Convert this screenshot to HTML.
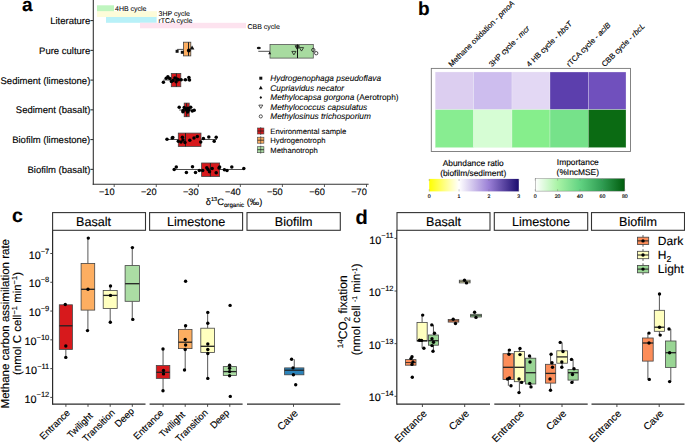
<!DOCTYPE html>
<html><head><meta charset="utf-8"><style>
html,body{margin:0;padding:0;background:#fff;}
svg{display:block;}
text{text-rendering:geometricPrecision;stroke:#000;stroke-width:0.14;font-family:"Liberation Sans", sans-serif;}
</style></head><body>
<svg width="685" height="443" viewBox="0 0 685 443">
<rect x="0" y="0" width="685" height="443" fill="#fff"/>
<text x="22" y="11" font-size="19" text-anchor="start" fill="#000" font-weight="bold" font-style="normal" >a</text>
<rect x="97" y="5.3" width="17" height="6.4" fill="#bff5bf" stroke="none" stroke-width="1" />
<rect x="97" y="11.2" width="60" height="5.8" fill="#fdfcd9" stroke="none" stroke-width="1" />
<rect x="106" y="17" width="50.6" height="5.8" fill="#b8f1f8" stroke="none" stroke-width="1" />
<rect x="140" y="22.8" width="106" height="5.5" fill="#fde3ef" stroke="none" stroke-width="1" />
<text x="115" y="10.6" font-size="7.0" text-anchor="start" fill="#000" font-weight="normal" font-style="normal" style="stroke-width:0.06" >4HB cycle</text>
<text x="158.5" y="16.2" font-size="7.0" text-anchor="start" fill="#000" font-weight="normal" font-style="normal" style="stroke-width:0.06" >3HP cycle</text>
<text x="158.5" y="22.6" font-size="7.0" text-anchor="start" fill="#000" font-weight="normal" font-style="normal" style="stroke-width:0.06" >rTCA cycle</text>
<text x="247.5" y="28.8" font-size="7.0" text-anchor="start" fill="#000" font-weight="normal" font-style="normal" style="stroke-width:0.06" >CBB cycle</text>
<text x="90.3" y="24.0" font-size="9.5" text-anchor="end" fill="#000" font-weight="normal" font-style="normal" >Literature</text>
<line x1="90.4" y1="20.6" x2="93.3" y2="20.6" stroke="#222" stroke-width="1.0"/>
<text x="90.3" y="53.75" font-size="9.5" text-anchor="end" fill="#000" font-weight="normal" font-style="normal" >Pure culture</text>
<line x1="90.4" y1="50.35" x2="93.3" y2="50.35" stroke="#222" stroke-width="1.0"/>
<text x="90.3" y="83.5" font-size="9.5" text-anchor="end" fill="#000" font-weight="normal" font-style="normal" >Sediment (limestone)</text>
<line x1="90.4" y1="80.1" x2="93.3" y2="80.1" stroke="#222" stroke-width="1.0"/>
<text x="90.3" y="113.25" font-size="9.5" text-anchor="end" fill="#000" font-weight="normal" font-style="normal" >Sediment (basalt)</text>
<line x1="90.4" y1="109.85" x2="93.3" y2="109.85" stroke="#222" stroke-width="1.0"/>
<text x="90.3" y="143.0" font-size="9.5" text-anchor="end" fill="#000" font-weight="normal" font-style="normal" >Biofilm (limestone)</text>
<line x1="90.4" y1="139.6" x2="93.3" y2="139.6" stroke="#222" stroke-width="1.0"/>
<text x="90.3" y="172.75" font-size="9.5" text-anchor="end" fill="#000" font-weight="normal" font-style="normal" >Biofilm (basalt)</text>
<line x1="90.4" y1="169.35" x2="93.3" y2="169.35" stroke="#222" stroke-width="1.0"/>
<line x1="93.3" y1="0" x2="93.3" y2="184.8" stroke="#333" stroke-width="1.1"/>
<line x1="92.7" y1="184.3" x2="368.6" y2="184.3" stroke="#333" stroke-width="1.1"/>
<line x1="114.2" y1="184.2" x2="114.2" y2="187" stroke="#333" stroke-width="0.8"/>
<text x="114.5" y="194.6" font-size="9.2" text-anchor="end" fill="#000" font-weight="normal" font-style="normal" >−10</text>
<line x1="156.25" y1="184.2" x2="156.25" y2="187" stroke="#333" stroke-width="0.8"/>
<text x="156.55" y="194.6" font-size="9.2" text-anchor="end" fill="#000" font-weight="normal" font-style="normal" >−20</text>
<line x1="198.3" y1="184.2" x2="198.3" y2="187" stroke="#333" stroke-width="0.8"/>
<text x="198.60000000000002" y="194.6" font-size="9.2" text-anchor="end" fill="#000" font-weight="normal" font-style="normal" >−30</text>
<line x1="240.35" y1="184.2" x2="240.35" y2="187" stroke="#333" stroke-width="0.8"/>
<text x="240.65" y="194.6" font-size="9.2" text-anchor="end" fill="#000" font-weight="normal" font-style="normal" >−40</text>
<line x1="282.4" y1="184.2" x2="282.4" y2="187" stroke="#333" stroke-width="0.8"/>
<text x="282.7" y="194.6" font-size="9.2" text-anchor="end" fill="#000" font-weight="normal" font-style="normal" >−50</text>
<line x1="324.45" y1="184.2" x2="324.45" y2="187" stroke="#333" stroke-width="0.8"/>
<text x="324.75" y="194.6" font-size="9.2" text-anchor="end" fill="#000" font-weight="normal" font-style="normal" >−60</text>
<line x1="366.5" y1="184.2" x2="366.5" y2="187" stroke="#333" stroke-width="0.8"/>
<text x="366.8" y="194.6" font-size="9.2" text-anchor="end" fill="#000" font-weight="normal" font-style="normal" >−70</text>
<text x="234" y="204.5" font-size="9.3" text-anchor="middle">δ<tspan font-size="5.6" dy="-3.6">13</tspan><tspan dy="3.6">C</tspan><tspan font-size="6.2" dy="2.3">organic</tspan><tspan dy="-2.3"> (‰)</tspan></text>
<line x1="177.1" y1="49.4" x2="183.4" y2="49.4" stroke="#222" stroke-width="0.8"/>
<rect x="183.4" y="42.2" width="7.4" height="13.7" fill="#fdae61" stroke="#444" stroke-width="0.8" />
<line x1="188.5" y1="42.2" x2="188.5" y2="55.9" stroke="#222" stroke-width="1.0"/>
<rect x="175.6" y="49.8" width="3" height="3" fill="#111" stroke="none" stroke-width="1" />
<rect x="180.8" y="50.8" width="3" height="3" fill="#111" stroke="none" stroke-width="1" />
<circle cx="188.8" cy="50.5" r="1.9" fill="#000"/>
<polygon points="189.8,49.6 194.4,49.6 192.1,45.6" fill="#111"/>
<line x1="258.3" y1="51.3" x2="270" y2="51.3" stroke="#222" stroke-width="0.8"/>
<rect x="270" y="44.5" width="43.3" height="13.6" fill="#a8dba0" stroke="#555" stroke-width="0.8" />
<line x1="297.5" y1="44.5" x2="297.5" y2="58.1" stroke="#111" stroke-width="1.0"/>
<ellipse cx="258.8" cy="48" rx="2" ry="1.3" fill="#111"/>
<polygon points="268.2,54.2 271.2,54.2 269.7,51.6" fill="#111"/>
<polygon points="291.79999999999995,51.4 296.0,51.4 293.9,54.9" fill="none" stroke="#111" stroke-width="0.75"/>
<polygon points="299.4,47.6 303.6,47.6 301.5,51.1" fill="none" stroke="#111" stroke-width="0.75"/>
<polygon points="295.09999999999997,45.699999999999996 299.3,45.699999999999996 297.2,49.199999999999996" fill="none" stroke="#111" stroke-width="0.75"/>
<circle cx="297.6" cy="47" r="1.5" fill="none" stroke="#111" stroke-width="0.75"/>
<circle cx="313.3" cy="50" r="1.7" fill="none" stroke="#111" stroke-width="0.75"/>
<circle cx="316.2" cy="53.2" r="1.7" fill="none" stroke="#111" stroke-width="0.75"/>
<line x1="163.4" y1="80" x2="190" y2="80" stroke="#222" stroke-width="0.8"/>
<rect x="171.3" y="73.4" width="9.5" height="13.3" fill="#d7191c" stroke="#444" stroke-width="0.8" />
<line x1="176.4" y1="73.4" x2="176.4" y2="86.7" stroke="#222" stroke-width="1.0"/>
<circle cx="163.4" cy="82.3" r="1.75" fill="#000"/>
<circle cx="166.2" cy="78.2" r="1.75" fill="#000"/>
<circle cx="167.9" cy="76.8" r="1.75" fill="#000"/>
<circle cx="169.7" cy="78.5" r="1.75" fill="#000"/>
<circle cx="171.4" cy="81.4" r="1.75" fill="#000"/>
<circle cx="174.9" cy="77.9" r="1.75" fill="#000"/>
<circle cx="176.1" cy="81.7" r="1.75" fill="#000"/>
<circle cx="178.4" cy="79.7" r="1.75" fill="#000"/>
<circle cx="181.1" cy="79.7" r="1.75" fill="#000"/>
<circle cx="185.4" cy="79.7" r="1.75" fill="#000"/>
<circle cx="188.9" cy="77.6" r="1.75" fill="#000"/>
<circle cx="189.5" cy="80" r="1.75" fill="#000"/>
<circle cx="173" cy="80.5" r="1.75" fill="#000"/>
<circle cx="177" cy="79" r="1.75" fill="#000"/>
<line x1="179.2" y1="110" x2="194.2" y2="110" stroke="#222" stroke-width="0.8"/>
<rect x="184.2" y="103.1" width="5" height="13.6" fill="#d7191c" stroke="#444" stroke-width="0.8" />
<line x1="186.6" y1="103.1" x2="186.6" y2="116.7" stroke="#222" stroke-width="1.0"/>
<circle cx="179.2" cy="107.2" r="1.75" fill="#000"/>
<circle cx="183.1" cy="110.5" r="1.75" fill="#000"/>
<circle cx="184.2" cy="107.5" r="1.75" fill="#000"/>
<circle cx="186.9" cy="110.5" r="1.75" fill="#000"/>
<circle cx="188" cy="108.3" r="1.75" fill="#000"/>
<circle cx="190.7" cy="107.2" r="1.75" fill="#000"/>
<circle cx="192.3" cy="111" r="1.75" fill="#000"/>
<circle cx="194.2" cy="110.2" r="1.75" fill="#000"/>
<circle cx="187.7" cy="112.1" r="1.75" fill="#000"/>
<circle cx="182.9" cy="111.8" r="1.75" fill="#000"/>
<circle cx="186" cy="109" r="1.75" fill="#000"/>
<circle cx="189" cy="110" r="1.75" fill="#000"/>
<line x1="166.8" y1="139.5" x2="217" y2="139.5" stroke="#222" stroke-width="0.8"/>
<rect x="178.3" y="133.1" width="22.7" height="13.3" fill="#d7191c" stroke="#444" stroke-width="0.8" />
<line x1="185.5" y1="133.1" x2="185.5" y2="146.4" stroke="#222" stroke-width="1.0"/>
<circle cx="167" cy="139.2" r="1.75" fill="#000"/>
<circle cx="172.2" cy="138.1" r="1.75" fill="#000"/>
<circle cx="172.8" cy="137.5" r="1.75" fill="#000"/>
<circle cx="178.3" cy="141.3" r="1.75" fill="#000"/>
<circle cx="181" cy="142" r="1.75" fill="#000"/>
<circle cx="182.4" cy="137.2" r="1.75" fill="#000"/>
<circle cx="183" cy="140" r="1.75" fill="#000"/>
<circle cx="185" cy="142.6" r="1.75" fill="#000"/>
<circle cx="189.8" cy="140.2" r="1.75" fill="#000"/>
<circle cx="194" cy="137.9" r="1.75" fill="#000"/>
<circle cx="197.3" cy="136.5" r="1.75" fill="#000"/>
<circle cx="200.7" cy="142" r="1.75" fill="#000"/>
<circle cx="203.4" cy="138.6" r="1.75" fill="#000"/>
<circle cx="208.8" cy="136.9" r="1.75" fill="#000"/>
<circle cx="214.2" cy="141.3" r="1.75" fill="#000"/>
<circle cx="216.2" cy="137.2" r="1.75" fill="#000"/>
<line x1="174.2" y1="169.5" x2="243.8" y2="169.5" stroke="#222" stroke-width="0.8"/>
<rect x="201.6" y="163" width="18" height="13.5" fill="#d7191c" stroke="#444" stroke-width="0.8" />
<line x1="210.4" y1="163" x2="210.4" y2="176.5" stroke="#222" stroke-width="1.0"/>
<circle cx="174.2" cy="169.5" r="1.75" fill="#000"/>
<circle cx="176.3" cy="167" r="1.75" fill="#000"/>
<circle cx="186.4" cy="172.4" r="1.75" fill="#000"/>
<circle cx="192.5" cy="166.7" r="1.75" fill="#000"/>
<circle cx="195.5" cy="172.4" r="1.75" fill="#000"/>
<circle cx="199.3" cy="170.4" r="1.75" fill="#000"/>
<circle cx="202.7" cy="170.4" r="1.75" fill="#000"/>
<circle cx="206.8" cy="167.7" r="1.75" fill="#000"/>
<circle cx="208" cy="169.5" r="1.75" fill="#000"/>
<circle cx="209.5" cy="171.8" r="1.75" fill="#000"/>
<circle cx="212.2" cy="168.4" r="1.75" fill="#000"/>
<circle cx="216.2" cy="172.7" r="1.75" fill="#000"/>
<circle cx="219" cy="168" r="1.75" fill="#000"/>
<circle cx="219.6" cy="167" r="1.75" fill="#000"/>
<circle cx="224.4" cy="169.7" r="1.75" fill="#000"/>
<circle cx="227" cy="170.4" r="1.75" fill="#000"/>
<circle cx="231.8" cy="167" r="1.75" fill="#000"/>
<circle cx="243.8" cy="168.4" r="1.75" fill="#000"/>
<rect x="259.3" y="76.7" width="3" height="3" fill="#111" stroke="none" stroke-width="1" />
<polygon points="258.8,89.3 262.8,89.3 260.8,85.8" fill="#111"/>
<polygon points="260.8,95.9 262.1,97.5 260.8,99.1 259.5,97.5" fill="#111"/>
<polygon points="258.8,105.1 262.8,105.1 260.8,108.39999999999999" fill="none" stroke="#111" stroke-width="0.7"/>
<circle cx="260.8" cy="116.4" r="1.6" fill="none" stroke="#111" stroke-width="0.7"/>
<text x="270.3" y="81.10000000000001" font-size="8.3" text-anchor="start" fill="#000" font-weight="normal" font-style="italic" style="stroke-width:0.08" >Hydrogenophaga pseudoflava</text>
<text x="270.3" y="90.60000000000001" font-size="8.3" text-anchor="start" fill="#000" font-weight="normal" font-style="italic" style="stroke-width:0.08" >Cupriavidus necator</text>
<text x="270.3" y="100.4" font-size="8.3" style="stroke-width:0.08"><tspan font-style="italic">Methylocapsa gorgona</tspan><tspan> (Aerotroph)</tspan></text>
<text x="270.3" y="109.5" font-size="8.3" text-anchor="start" fill="#000" font-weight="normal" font-style="italic" style="stroke-width:0.08" >Methylococcus capsulatus</text>
<text x="270.3" y="119.30000000000001" font-size="8.3" text-anchor="start" fill="#000" font-weight="normal" font-style="italic" style="stroke-width:0.08" >Methylosinus trichosporium</text>
<rect x="257.5" y="128" width="6.4" height="6" fill="#d7191c" stroke="#444" stroke-width="0.6" />
<line x1="260.7" y1="127" x2="260.7" y2="135" stroke="#333" stroke-width="0.6"/>
<line x1="257.5" y1="131" x2="263.9" y2="131" stroke="#222" stroke-width="0.8"/>
<text x="270.3" y="133.8" font-size="7.7" text-anchor="start" fill="#000" font-weight="normal" font-style="normal" style="stroke-width:0.08" >Environmental sample</text>
<rect x="257.5" y="137.2" width="6.4" height="6" fill="#fdae61" stroke="#444" stroke-width="0.6" />
<line x1="260.7" y1="136.2" x2="260.7" y2="144.2" stroke="#333" stroke-width="0.6"/>
<line x1="257.5" y1="140.2" x2="263.9" y2="140.2" stroke="#222" stroke-width="0.8"/>
<text x="270.3" y="143.0" font-size="7.7" text-anchor="start" fill="#000" font-weight="normal" font-style="normal" style="stroke-width:0.08" >Hydrogenotroph</text>
<rect x="257.5" y="146.7" width="6.4" height="6" fill="#abdda4" stroke="#444" stroke-width="0.6" />
<line x1="260.7" y1="145.7" x2="260.7" y2="153.7" stroke="#333" stroke-width="0.6"/>
<line x1="257.5" y1="149.7" x2="263.9" y2="149.7" stroke="#222" stroke-width="0.8"/>
<text x="270.3" y="152.5" font-size="7.7" text-anchor="start" fill="#000" font-weight="normal" font-style="normal" style="stroke-width:0.08" >Methanotroph</text>
<text x="418" y="14.9" font-size="19" text-anchor="start" fill="#000" font-weight="bold" font-style="normal" >b</text>
<rect x="431.3" y="68.4" width="199.2" height="83.1" fill="none" stroke="#777" stroke-width="0.9" />
<rect x="435.2" y="72" width="38.400000000000034" height="37.7" fill="#dccef0" stroke="#f2f0f8" stroke-width="0.3" />
<rect x="435.2" y="109.7" width="38.400000000000034" height="37.9" fill="#88ed91" stroke="#eaf8ea" stroke-width="0.3" />
<rect x="473.6" y="72" width="38.39999999999998" height="37.7" fill="#cdbdee" stroke="#f2f0f8" stroke-width="0.3" />
<rect x="473.6" y="109.7" width="38.39999999999998" height="37.9" fill="#d6fdd4" stroke="#eaf8ea" stroke-width="0.3" />
<rect x="512" y="72" width="38" height="37.7" fill="#e3d8f4" stroke="#f2f0f8" stroke-width="0.3" />
<rect x="512" y="109.7" width="38" height="37.9" fill="#86ee8c" stroke="#eaf8ea" stroke-width="0.3" />
<rect x="550" y="72" width="38.299999999999955" height="37.7" fill="#5c3fad" stroke="#f2f0f8" stroke-width="0.3" />
<rect x="550" y="109.7" width="38.299999999999955" height="37.9" fill="#76e28a" stroke="#eaf8ea" stroke-width="0.3" />
<rect x="588.3" y="72" width="37.700000000000045" height="37.7" fill="#7050bd" stroke="#f2f0f8" stroke-width="0.3" />
<rect x="588.3" y="109.7" width="37.700000000000045" height="37.9" fill="#0b6b13" stroke="#eaf8ea" stroke-width="0.3" />
<text x="451.4" y="67.3" font-size="7.7" transform="rotate(-45 451.4 67.3)">Methane oxidation - <tspan font-style="italic">pmoA</tspan></text>
<text x="491.9" y="67.3" font-size="7.7" transform="rotate(-45 491.9 67.3)">3HP cycle - <tspan font-style="italic">mcr</tspan></text>
<text x="529.6" y="67.3" font-size="7.7" transform="rotate(-45 529.6 67.3)">4 HB cycle - <tspan font-style="italic">hbsT</tspan></text>
<text x="569.4" y="67.3" font-size="7.7" transform="rotate(-45 569.4 67.3)">rTCA cycle - <tspan font-style="italic">aclB</tspan></text>
<text x="604.7" y="67.3" font-size="7.7" transform="rotate(-45 604.7 67.3)">CBB cycle - <tspan font-style="italic">rbcL</tspan></text>
<defs><linearGradient id="g1" x1="0" x2="1" y1="0" y2="0"><stop offset="0" stop-color="#ffff00"/><stop offset="0.333" stop-color="#ffffff"/><stop offset="0.667" stop-color="#9a7fd6"/><stop offset="1" stop-color="#1b0c6e"/></linearGradient><linearGradient id="g2" x1="0" x2="1" y1="0" y2="0"><stop offset="0" stop-color="#ffffff"/><stop offset="0.25" stop-color="#aaf3a6"/><stop offset="0.5" stop-color="#62d382"/><stop offset="0.75" stop-color="#2f9c52"/><stop offset="1" stop-color="#005c0c"/></linearGradient></defs>
<text x="473.2" y="165.9" font-size="8.4" text-anchor="middle" fill="#000" font-weight="normal" font-style="normal" >Abundance ratio</text>
<text x="473.2" y="175.9" font-size="8.4" text-anchor="middle" fill="#000" font-weight="normal" font-style="normal" >(biofilm/sediment)</text>
<rect x="429.2" y="178.9" width="89.6" height="12.5" fill="url(#g1)" stroke="none" stroke-width="1" />
<text x="577.8" y="164.6" font-size="8.4" text-anchor="middle" fill="#000" font-weight="normal" font-style="normal" >Importance</text>
<text x="577.8" y="174.7" font-size="8.4" text-anchor="middle" fill="#000" font-weight="normal" font-style="normal" >(%IncMSE)</text>
<rect x="535.2" y="178.6" width="89.6" height="12.5" fill="url(#g2)" stroke="#666" stroke-width="0.4" />
<line x1="429.2" y1="179" x2="429.2" y2="181" stroke="#777" stroke-width="0.4"/>
<line x1="429.2" y1="189.3" x2="429.2" y2="191.4" stroke="#777" stroke-width="0.4"/>
<text x="429.2" y="197.9" font-size="5.2" text-anchor="middle" fill="#000" font-weight="normal" font-style="normal" >0</text>
<line x1="459.06666666666666" y1="179" x2="459.06666666666666" y2="181" stroke="#777" stroke-width="0.4"/>
<line x1="459.06666666666666" y1="189.3" x2="459.06666666666666" y2="191.4" stroke="#777" stroke-width="0.4"/>
<text x="459.06666666666666" y="197.9" font-size="5.2" text-anchor="middle" fill="#000" font-weight="normal" font-style="normal" >1</text>
<line x1="488.93333333333334" y1="179" x2="488.93333333333334" y2="181" stroke="#777" stroke-width="0.4"/>
<line x1="488.93333333333334" y1="189.3" x2="488.93333333333334" y2="191.4" stroke="#777" stroke-width="0.4"/>
<text x="488.93333333333334" y="197.9" font-size="5.2" text-anchor="middle" fill="#000" font-weight="normal" font-style="normal" >2</text>
<line x1="518.8" y1="179" x2="518.8" y2="181" stroke="#777" stroke-width="0.4"/>
<line x1="518.8" y1="189.3" x2="518.8" y2="191.4" stroke="#777" stroke-width="0.4"/>
<text x="518.8" y="197.9" font-size="5.2" text-anchor="middle" fill="#000" font-weight="normal" font-style="normal" >3</text>
<line x1="535.2" y1="178.6" x2="535.2" y2="180.6" stroke="#777" stroke-width="0.4"/>
<line x1="535.2" y1="189.1" x2="535.2" y2="191.1" stroke="#777" stroke-width="0.4"/>
<text x="535.2" y="197.9" font-size="5.2" text-anchor="middle" fill="#000" font-weight="normal" font-style="normal" >0</text>
<line x1="557.6" y1="178.6" x2="557.6" y2="180.6" stroke="#777" stroke-width="0.4"/>
<line x1="557.6" y1="189.1" x2="557.6" y2="191.1" stroke="#777" stroke-width="0.4"/>
<text x="557.6" y="197.9" font-size="5.2" text-anchor="middle" fill="#000" font-weight="normal" font-style="normal" >20</text>
<line x1="580.0" y1="178.6" x2="580.0" y2="180.6" stroke="#777" stroke-width="0.4"/>
<line x1="580.0" y1="189.1" x2="580.0" y2="191.1" stroke="#777" stroke-width="0.4"/>
<text x="580.0" y="197.9" font-size="5.2" text-anchor="middle" fill="#000" font-weight="normal" font-style="normal" >40</text>
<line x1="602.4000000000001" y1="178.6" x2="602.4000000000001" y2="180.6" stroke="#777" stroke-width="0.4"/>
<line x1="602.4000000000001" y1="189.1" x2="602.4000000000001" y2="191.1" stroke="#777" stroke-width="0.4"/>
<text x="602.4000000000001" y="197.9" font-size="5.2" text-anchor="middle" fill="#000" font-weight="normal" font-style="normal" >60</text>
<line x1="624.8000000000001" y1="178.6" x2="624.8000000000001" y2="180.6" stroke="#777" stroke-width="0.4"/>
<line x1="624.8000000000001" y1="189.1" x2="624.8000000000001" y2="191.1" stroke="#777" stroke-width="0.4"/>
<text x="624.8000000000001" y="197.9" font-size="5.2" text-anchor="middle" fill="#000" font-weight="normal" font-style="normal" >80</text>
<text x="12" y="221.5" font-size="19.5" text-anchor="start" fill="#000" font-weight="bold" font-style="normal" >c</text>
<rect x="52.6" y="212.6" width="92.9" height="17.7" fill="#fff" stroke="#333" stroke-width="1.1" />
<text x="76" y="226.2" font-size="12.6" text-anchor="start" fill="#000" font-weight="normal" font-style="normal" >Basalt</text>
<rect x="149.6" y="212.6" width="93.0" height="17.7" fill="#fff" stroke="#333" stroke-width="1.1" />
<text x="196.1" y="226.2" font-size="12.6" text-anchor="middle" fill="#000" font-weight="normal" font-style="normal" >Limestone</text>
<rect x="247" y="212.6" width="93.30000000000001" height="17.7" fill="#fff" stroke="#333" stroke-width="1.1" />
<text x="293.65" y="226.2" font-size="12.6" text-anchor="middle" fill="#000" font-weight="normal" font-style="normal" >Biofilm</text>
<line x1="52.6" y1="404.2" x2="145.5" y2="404.2" stroke="#2a2a2a" stroke-width="1.2"/>
<line x1="149.6" y1="404.2" x2="242.6" y2="404.2" stroke="#2a2a2a" stroke-width="1.2"/>
<line x1="247" y1="404.2" x2="340.3" y2="404.2" stroke="#2a2a2a" stroke-width="1.2"/>
<line x1="52.6" y1="230.3" x2="52.6" y2="404.8" stroke="#2a2a2a" stroke-width="1.2"/>
<line x1="50.3" y1="253.5" x2="52.6" y2="253.5" stroke="#333" stroke-width="0.9"/>
<text x="49.3" y="258.6" font-size="10.8" text-anchor="end">10<tspan font-size="7.5" dy="-5.1">−7</tspan></text>
<line x1="50.3" y1="282.28" x2="52.6" y2="282.28" stroke="#333" stroke-width="0.9"/>
<text x="49.3" y="287.38" font-size="10.8" text-anchor="end">10<tspan font-size="7.5" dy="-5.1">−8</tspan></text>
<line x1="50.3" y1="311.06" x2="52.6" y2="311.06" stroke="#333" stroke-width="0.9"/>
<text x="49.3" y="316.16" font-size="10.8" text-anchor="end">10<tspan font-size="7.5" dy="-5.1">−9</tspan></text>
<line x1="50.3" y1="339.84000000000003" x2="52.6" y2="339.84000000000003" stroke="#333" stroke-width="0.9"/>
<text x="49.3" y="344.94000000000005" font-size="10.8" text-anchor="end">10<tspan font-size="7.5" dy="-5.1">−10</tspan></text>
<line x1="50.3" y1="368.62" x2="52.6" y2="368.62" stroke="#333" stroke-width="0.9"/>
<text x="49.3" y="373.72" font-size="10.8" text-anchor="end">10<tspan font-size="7.5" dy="-5.1">−11</tspan></text>
<line x1="50.3" y1="397.4" x2="52.6" y2="397.4" stroke="#333" stroke-width="0.9"/>
<text x="49.3" y="402.5" font-size="10.8" text-anchor="end">10<tspan font-size="7.5" dy="-5.1">−12</tspan></text>
<text transform="translate(9.2 323.7) rotate(-90)" font-size="11.5" text-anchor="middle">Methane carbon assimilation rate</text>
<text transform="translate(21.4 323.5) rotate(-90)" font-size="11.45" text-anchor="middle">(nmol C cell<tspan font-size="7.5" dy="-4">−1</tspan><tspan dy="4"> min</tspan><tspan font-size="7.5" dy="-4">−1</tspan><tspan dy="4">)</tspan></text>
<line x1="65.85" y1="349.4" x2="65.85" y2="357.4" stroke="#444" stroke-width="0.9"/>
<rect x="59.3" y="304.8" width="13.100000000000009" height="44.599999999999966" fill="#d7191c" stroke="#444" stroke-width="0.8" />
<line x1="59.3" y1="325.8" x2="72.4" y2="325.8" stroke="#222" stroke-width="1.3"/>
<circle cx="65.3" cy="304.5" r="1.7" fill="#000"/>
<circle cx="65.8" cy="346" r="1.7" fill="#000"/>
<circle cx="65.8" cy="357.4" r="1.7" fill="#000"/>
<line x1="87.9" y1="238.1" x2="87.9" y2="263.4" stroke="#444" stroke-width="0.9"/>
<line x1="87.9" y1="310.1" x2="87.9" y2="330.6" stroke="#444" stroke-width="0.9"/>
<rect x="81.1" y="263.4" width="13.600000000000009" height="46.700000000000045" fill="#fdae61" stroke="#444" stroke-width="0.8" />
<line x1="81.1" y1="289.3" x2="94.7" y2="289.3" stroke="#222" stroke-width="1.3"/>
<circle cx="88.3" cy="238.1" r="1.7" fill="#000"/>
<circle cx="88" cy="289.3" r="1.7" fill="#000"/>
<circle cx="87.5" cy="330.6" r="1.7" fill="#000"/>
<line x1="110.2" y1="286" x2="110.2" y2="290.5" stroke="#444" stroke-width="0.9"/>
<line x1="110.2" y1="308.5" x2="110.2" y2="322.3" stroke="#444" stroke-width="0.9"/>
<rect x="103.2" y="290.5" width="14.0" height="18.0" fill="#ffffbf" stroke="#444" stroke-width="0.8" />
<line x1="103.2" y1="295.4" x2="117.2" y2="295.4" stroke="#222" stroke-width="1.3"/>
<circle cx="110.5" cy="286" r="1.7" fill="#000"/>
<circle cx="110.5" cy="295.4" r="1.7" fill="#000"/>
<circle cx="110.3" cy="322.3" r="1.7" fill="#000"/>
<line x1="132.25" y1="247.6" x2="132.25" y2="265.6" stroke="#444" stroke-width="0.9"/>
<line x1="132.25" y1="301.3" x2="132.25" y2="319.4" stroke="#444" stroke-width="0.9"/>
<rect x="125.1" y="265.6" width="14.300000000000011" height="35.69999999999999" fill="#abdda4" stroke="#444" stroke-width="0.8" />
<line x1="125.1" y1="283.7" x2="139.4" y2="283.7" stroke="#222" stroke-width="1.3"/>
<circle cx="132.4" cy="247.6" r="1.7" fill="#000"/>
<circle cx="132.8" cy="319.4" r="1.7" fill="#000"/>
<line x1="163.05" y1="349" x2="163.05" y2="365.5" stroke="#444" stroke-width="0.9"/>
<line x1="163.05" y1="378.4" x2="163.05" y2="390.8" stroke="#444" stroke-width="0.9"/>
<rect x="156.3" y="365.5" width="13.5" height="12.899999999999977" fill="#d7191c" stroke="#444" stroke-width="0.8" />
<line x1="156.3" y1="372.3" x2="169.8" y2="372.3" stroke="#222" stroke-width="1.3"/>
<circle cx="163" cy="349" r="1.7" fill="#000"/>
<circle cx="163.5" cy="370.5" r="1.7" fill="#000"/>
<circle cx="163.5" cy="373.9" r="1.7" fill="#000"/>
<circle cx="163" cy="390.8" r="1.7" fill="#000"/>
<line x1="185.2" y1="325.8" x2="185.2" y2="329.4" stroke="#444" stroke-width="0.9"/>
<line x1="185.2" y1="348.6" x2="185.2" y2="370" stroke="#444" stroke-width="0.9"/>
<rect x="178.4" y="329.4" width="13.599999999999994" height="19.200000000000045" fill="#fdae61" stroke="#444" stroke-width="0.8" />
<line x1="178.4" y1="342.2" x2="192" y2="342.2" stroke="#222" stroke-width="1.3"/>
<circle cx="185.6" cy="281.3" r="1.7" fill="#000"/>
<circle cx="185.6" cy="325.8" r="1.7" fill="#000"/>
<circle cx="185.2" cy="339.5" r="1.7" fill="#000"/>
<circle cx="185.6" cy="345" r="1.7" fill="#000"/>
<circle cx="185.2" cy="349.5" r="1.7" fill="#000"/>
<circle cx="184.5" cy="370" r="1.7" fill="#000"/>
<line x1="207.65" y1="312.4" x2="207.65" y2="328.2" stroke="#444" stroke-width="0.9"/>
<line x1="207.65" y1="352.4" x2="207.65" y2="378.4" stroke="#444" stroke-width="0.9"/>
<rect x="200.8" y="328.2" width="13.699999999999989" height="24.19999999999999" fill="#ffffbf" stroke="#444" stroke-width="0.8" />
<line x1="200.8" y1="346.3" x2="214.5" y2="346.3" stroke="#222" stroke-width="1.3"/>
<circle cx="207.8" cy="312.4" r="1.7" fill="#000"/>
<circle cx="207.8" cy="323.3" r="1.7" fill="#000"/>
<circle cx="207.8" cy="344" r="1.7" fill="#000"/>
<circle cx="207.8" cy="349.5" r="1.7" fill="#000"/>
<circle cx="207.8" cy="353.5" r="1.7" fill="#000"/>
<circle cx="207.8" cy="378.4" r="1.7" fill="#000"/>
<rect x="223.3" y="366.6" width="13.099999999999994" height="8.799999999999955" fill="#abdda4" stroke="#444" stroke-width="0.8" />
<line x1="223.3" y1="371.6" x2="236.4" y2="371.6" stroke="#222" stroke-width="1.3"/>
<circle cx="229.6" cy="365.3" r="1.7" fill="#000"/>
<circle cx="229.6" cy="368.2" r="1.7" fill="#000"/>
<circle cx="229.6" cy="371.6" r="1.7" fill="#000"/>
<circle cx="229.6" cy="375.7" r="1.7" fill="#000"/>
<circle cx="230.1" cy="305.4" r="1.7" fill="#000"/>
<circle cx="230.3" cy="396.4" r="1.7" fill="#000"/>
<line x1="294.25" y1="359.3" x2="294.25" y2="367.9" stroke="#444" stroke-width="0.9"/>
<rect x="284.6" y="367.9" width="19.299999999999955" height="6.900000000000034" fill="#2b83ba" stroke="#444" stroke-width="0.8" />
<line x1="284.6" y1="370.2" x2="303.9" y2="370.2" stroke="#222" stroke-width="1.3"/>
<circle cx="291.6" cy="359.3" r="1.7" fill="#000"/>
<circle cx="293" cy="367.9" r="1.7" fill="#000"/>
<circle cx="293.4" cy="374.8" r="1.7" fill="#000"/>
<circle cx="295.7" cy="384.8" r="1.7" fill="#000"/>
<line x1="65.9" y1="404.2" x2="65.9" y2="406.8" stroke="#333" stroke-width="0.9"/>
<text x="70.5" y="413.40000000000003" font-size="9.5" text-anchor="end" transform="rotate(-45 70.5 413.40000000000003)">Entrance</text>
<line x1="88" y1="404.2" x2="88" y2="406.8" stroke="#333" stroke-width="0.9"/>
<text x="93.3" y="416.3" font-size="9.5" text-anchor="end" transform="rotate(-45 93.3 416.3)">Twilight</text>
<line x1="110.2" y1="404.2" x2="110.2" y2="406.8" stroke="#333" stroke-width="0.9"/>
<text x="115.5" y="413.3" font-size="9.5" text-anchor="end" transform="rotate(-45 115.5 413.3)">Transition</text>
<line x1="132.3" y1="404.2" x2="132.3" y2="406.8" stroke="#333" stroke-width="0.9"/>
<text x="134.70000000000002" y="411.8" font-size="9.5" text-anchor="end" transform="rotate(-45 134.70000000000002 411.8)">Deep</text>
<line x1="163.1" y1="404.2" x2="163.1" y2="406.8" stroke="#333" stroke-width="0.9"/>
<text x="164.1" y="413.40000000000003" font-size="9.5" text-anchor="end" transform="rotate(-45 164.1 413.40000000000003)">Entrance</text>
<line x1="185.2" y1="404.2" x2="185.2" y2="406.8" stroke="#333" stroke-width="0.9"/>
<text x="185.5" y="415.5" font-size="9.5" text-anchor="end" transform="rotate(-45 185.5 415.5)">Twilight</text>
<line x1="207.6" y1="404.2" x2="207.6" y2="406.8" stroke="#333" stroke-width="0.9"/>
<text x="208.6" y="413.3" font-size="9.5" text-anchor="end" transform="rotate(-45 208.6 413.3)">Transition</text>
<line x1="229.8" y1="404.2" x2="229.8" y2="406.8" stroke="#333" stroke-width="0.9"/>
<text x="230.0" y="413.3" font-size="9.5" text-anchor="end" transform="rotate(-45 230.0 413.3)">Deep</text>
<line x1="293.5" y1="404.2" x2="293.5" y2="406.8" stroke="#333" stroke-width="0.9"/>
<text x="298.66" y="413.9" font-size="10.4" text-anchor="end" transform="rotate(-45 298.66 413.9)">Cave</text>
<text x="355.6" y="223.6" font-size="20" text-anchor="start" fill="#000" font-weight="bold" font-style="normal" >d</text>
<rect x="397" y="212.6" width="93" height="17.7" fill="#fff" stroke="#333" stroke-width="1.1" />
<text x="443.5" y="226.2" font-size="12.6" text-anchor="middle" fill="#000" font-weight="normal" font-style="normal" >Basalt</text>
<rect x="494.3" y="212.6" width="93.40000000000003" height="17.7" fill="#fff" stroke="#333" stroke-width="1.1" />
<text x="541.0" y="226.2" font-size="12.6" text-anchor="middle" fill="#000" font-weight="normal" font-style="normal" >Limestone</text>
<rect x="591.5" y="212.6" width="93.0" height="17.7" fill="#fff" stroke="#333" stroke-width="1.1" />
<text x="638.0" y="226.2" font-size="12.6" text-anchor="middle" fill="#000" font-weight="normal" font-style="normal" >Biofilm</text>
<line x1="397" y1="404.2" x2="490" y2="404.2" stroke="#2a2a2a" stroke-width="1.2"/>
<line x1="494.3" y1="404.2" x2="587.7" y2="404.2" stroke="#2a2a2a" stroke-width="1.2"/>
<line x1="591.5" y1="404.2" x2="684.5" y2="404.2" stroke="#2a2a2a" stroke-width="1.2"/>
<line x1="396.8" y1="230.3" x2="396.8" y2="404.8" stroke="#2a2a2a" stroke-width="1.2"/>
<line x1="394.5" y1="238.4" x2="396.8" y2="238.4" stroke="#333" stroke-width="0.9"/>
<text x="393.5" y="243.5" font-size="10.8" text-anchor="end">10<tspan font-size="7.5" dy="-5.1">−11</tspan></text>
<line x1="394.5" y1="291.03000000000003" x2="396.8" y2="291.03000000000003" stroke="#333" stroke-width="0.9"/>
<text x="393.5" y="296.13000000000005" font-size="10.8" text-anchor="end">10<tspan font-size="7.5" dy="-5.1">−12</tspan></text>
<line x1="394.5" y1="343.66" x2="396.8" y2="343.66" stroke="#333" stroke-width="0.9"/>
<text x="393.5" y="348.76000000000005" font-size="10.8" text-anchor="end">10<tspan font-size="7.5" dy="-5.1">−13</tspan></text>
<line x1="394.5" y1="396.29" x2="396.8" y2="396.29" stroke="#333" stroke-width="0.9"/>
<text x="393.5" y="401.39000000000004" font-size="10.8" text-anchor="end">10<tspan font-size="7.5" dy="-5.1">−14</tspan></text>
<text transform="translate(347.2 311.8) rotate(-90)" font-size="12" text-anchor="middle"><tspan font-size="8" dy="-3.8">14</tspan><tspan dy="3.8">CO</tspan><tspan font-size="8" dy="2.6">2</tspan><tspan dy="-2.6"> fixation</tspan></text>
<text transform="translate(360 309.5) rotate(-90)" font-size="11.7" text-anchor="middle">(nmol cell <tspan font-size="7" dy="-3.5">-1</tspan><tspan dy="3.5"> min</tspan><tspan font-size="7" dy="-3.5">-1</tspan><tspan dy="3.5">)</tspan></text>
<rect x="405.5" y="359.6" width="10.5" height="5.599999999999966" fill="#fc8d59" stroke="#444" stroke-width="0.8" />
<line x1="405.5" y1="362.5" x2="416" y2="362.5" stroke="#222" stroke-width="0.8"/>
<circle cx="412" cy="356.8" r="1.7" fill="#000"/>
<circle cx="411" cy="358.6" r="1.7" fill="#000"/>
<circle cx="413" cy="361.9" r="1.7" fill="#000"/>
<circle cx="412" cy="364.4" r="1.7" fill="#000"/>
<circle cx="412.3" cy="377.2" r="1.7" fill="#000"/>
<line x1="422.1" y1="315.1" x2="422.1" y2="322.4" stroke="#444" stroke-width="0.9"/>
<line x1="422.1" y1="341.1" x2="422.1" y2="348.3" stroke="#444" stroke-width="0.9"/>
<rect x="417" y="322.4" width="10.199999999999989" height="18.700000000000045" fill="#ffffbf" stroke="#444" stroke-width="0.8" />
<line x1="417" y1="340.7" x2="427.2" y2="340.7" stroke="#222" stroke-width="1.3"/>
<circle cx="422.7" cy="315.1" r="1.7" fill="#000"/>
<circle cx="421.6" cy="340.4" r="1.7" fill="#000"/>
<circle cx="423.9" cy="348.3" r="1.7" fill="#000"/>
<circle cx="419.5" cy="340.2" r="1.7" fill="#000"/>
<line x1="433.45" y1="324.9" x2="433.45" y2="335" stroke="#444" stroke-width="0.9"/>
<line x1="433.45" y1="345.2" x2="433.45" y2="351.3" stroke="#444" stroke-width="0.9"/>
<rect x="428.4" y="335" width="10.100000000000023" height="10.199999999999989" fill="#99d594" stroke="#444" stroke-width="0.8" />
<line x1="428.4" y1="340.7" x2="438.5" y2="340.7" stroke="#222" stroke-width="1.3"/>
<circle cx="431.8" cy="324.9" r="1.7" fill="#000"/>
<circle cx="434.5" cy="333.2" r="1.7" fill="#000"/>
<circle cx="432" cy="338.8" r="1.7" fill="#000"/>
<circle cx="433.5" cy="342.2" r="1.7" fill="#000"/>
<circle cx="432" cy="345.6" r="1.7" fill="#000"/>
<circle cx="433" cy="351.3" r="1.7" fill="#000"/>
<rect x="448.2" y="319.5" width="10.600000000000023" height="2.6000000000000227" fill="#fc8d59" stroke="#444" stroke-width="0.8" />
<line x1="448.2" y1="320.8" x2="458.8" y2="320.8" stroke="#222" stroke-width="0.7"/>
<circle cx="453.2" cy="319.2" r="1.7" fill="#000"/>
<circle cx="455.5" cy="323.5" r="1.7" fill="#000"/>
<rect x="459.3" y="280.2" width="10.800000000000011" height="2.6999999999999886" fill="#ffffbf" stroke="#444" stroke-width="0.8" />
<line x1="459.3" y1="281.6" x2="470.1" y2="281.6" stroke="#222" stroke-width="0.7"/>
<circle cx="464.5" cy="280.2" r="1.7" fill="#000"/>
<circle cx="466.5" cy="282.9" r="1.7" fill="#000"/>
<rect x="470.6" y="314.3" width="10.799999999999955" height="2.6999999999999886" fill="#99d594" stroke="#444" stroke-width="0.8" />
<line x1="470.6" y1="315.6" x2="481.4" y2="315.6" stroke="#222" stroke-width="0.7"/>
<circle cx="474.6" cy="312.2" r="1.7" fill="#000"/>
<circle cx="476" cy="317.4" r="1.7" fill="#000"/>
<line x1="508.35" y1="349.7" x2="508.35" y2="353.7" stroke="#444" stroke-width="0.9"/>
<line x1="508.35" y1="379.5" x2="508.35" y2="385.8" stroke="#444" stroke-width="0.9"/>
<rect x="503" y="353.7" width="10.700000000000045" height="25.80000000000001" fill="#fc8d59" stroke="#444" stroke-width="0.8" />
<line x1="503" y1="367.3" x2="513.7" y2="367.3" stroke="#222" stroke-width="1.3"/>
<circle cx="509.4" cy="350.1" r="1.7" fill="#000"/>
<circle cx="509" cy="354.2" r="1.7" fill="#000"/>
<circle cx="507.5" cy="379" r="1.7" fill="#000"/>
<circle cx="509.4" cy="378" r="1.7" fill="#000"/>
<circle cx="511" cy="385.8" r="1.7" fill="#000"/>
<line x1="519.4" y1="348.5" x2="519.4" y2="351.5" stroke="#444" stroke-width="0.9"/>
<line x1="519.4" y1="381.7" x2="519.4" y2="392.6" stroke="#444" stroke-width="0.9"/>
<rect x="514.3" y="351.5" width="10.200000000000045" height="30.19999999999999" fill="#ffffbf" stroke="#444" stroke-width="0.8" />
<line x1="514.3" y1="367.3" x2="524.5" y2="367.3" stroke="#222" stroke-width="1.3"/>
<circle cx="520" cy="348.5" r="1.7" fill="#000"/>
<circle cx="520" cy="354.6" r="1.7" fill="#000"/>
<circle cx="519" cy="379" r="1.7" fill="#000"/>
<circle cx="521.6" cy="382.4" r="1.7" fill="#000"/>
<circle cx="519" cy="392.6" r="1.7" fill="#000"/>
<line x1="530.7" y1="356" x2="530.7" y2="358.2" stroke="#444" stroke-width="0.9"/>
<line x1="530.7" y1="384" x2="530.7" y2="386.9" stroke="#444" stroke-width="0.9"/>
<rect x="525.6" y="358.2" width="10.199999999999932" height="25.80000000000001" fill="#99d594" stroke="#444" stroke-width="0.8" />
<line x1="525.6" y1="372.7" x2="535.8" y2="372.7" stroke="#222" stroke-width="1.3"/>
<circle cx="529.5" cy="356" r="1.7" fill="#000"/>
<circle cx="530" cy="362" r="1.7" fill="#000"/>
<circle cx="529.7" cy="383.5" r="1.7" fill="#000"/>
<circle cx="531" cy="386.9" r="1.7" fill="#000"/>
<line x1="550.6" y1="354.2" x2="550.6" y2="364.3" stroke="#444" stroke-width="0.9"/>
<line x1="550.6" y1="383.1" x2="550.6" y2="390.3" stroke="#444" stroke-width="0.9"/>
<rect x="545.5" y="364.3" width="10.200000000000045" height="18.80000000000001" fill="#fc8d59" stroke="#444" stroke-width="0.8" />
<line x1="545.5" y1="373.4" x2="555.7" y2="373.4" stroke="#222" stroke-width="1.3"/>
<circle cx="551.1" cy="354.2" r="1.7" fill="#000"/>
<circle cx="552" cy="362.8" r="1.7" fill="#000"/>
<circle cx="552.5" cy="367.3" r="1.7" fill="#000"/>
<circle cx="550" cy="379" r="1.7" fill="#000"/>
<circle cx="550.5" cy="390.3" r="1.7" fill="#000"/>
<line x1="562.0999999999999" y1="342.4" x2="562.0999999999999" y2="350.8" stroke="#444" stroke-width="0.9"/>
<line x1="562.0999999999999" y1="363.2" x2="562.0999999999999" y2="367.3" stroke="#444" stroke-width="0.9"/>
<rect x="556.8" y="350.8" width="10.600000000000023" height="12.399999999999977" fill="#ffffbf" stroke="#444" stroke-width="0.8" />
<line x1="556.8" y1="356.9" x2="567.4" y2="356.9" stroke="#222" stroke-width="1.3"/>
<circle cx="560.2" cy="342.4" r="1.7" fill="#000"/>
<circle cx="563" cy="351.5" r="1.7" fill="#000"/>
<circle cx="561.8" cy="362" r="1.7" fill="#000"/>
<circle cx="561.8" cy="367.3" r="1.7" fill="#000"/>
<line x1="573.1" y1="359.4" x2="573.1" y2="369.5" stroke="#444" stroke-width="0.9"/>
<line x1="573.1" y1="380.1" x2="573.1" y2="382.4" stroke="#444" stroke-width="0.9"/>
<rect x="568" y="369.5" width="10.200000000000045" height="10.600000000000023" fill="#99d594" stroke="#444" stroke-width="0.8" />
<line x1="568" y1="372.7" x2="578.2" y2="372.7" stroke="#222" stroke-width="1.3"/>
<circle cx="571.5" cy="359.4" r="1.7" fill="#000"/>
<circle cx="574" cy="368.8" r="1.7" fill="#000"/>
<circle cx="572.5" cy="374.5" r="1.7" fill="#000"/>
<circle cx="571.9" cy="382.4" r="1.7" fill="#000"/>
<line x1="647.9000000000001" y1="333.1" x2="647.9000000000001" y2="338" stroke="#444" stroke-width="0.9"/>
<line x1="647.9000000000001" y1="361.1" x2="647.9000000000001" y2="379.4" stroke="#444" stroke-width="0.9"/>
<rect x="642.6" y="338" width="10.600000000000023" height="23.100000000000023" fill="#fc8d59" stroke="#444" stroke-width="0.8" />
<line x1="642.6" y1="343" x2="653.2" y2="343" stroke="#222" stroke-width="1.3"/>
<circle cx="649" cy="333.1" r="1.7" fill="#000"/>
<circle cx="649" cy="343" r="1.7" fill="#000"/>
<circle cx="649.3" cy="379.4" r="1.7" fill="#000"/>
<line x1="659.4" y1="294" x2="659.4" y2="310.3" stroke="#444" stroke-width="0.9"/>
<line x1="659.4" y1="331.3" x2="659.4" y2="335.1" stroke="#444" stroke-width="0.9"/>
<rect x="654.3" y="310.3" width="10.200000000000045" height="21.0" fill="#ffffbf" stroke="#444" stroke-width="0.8" />
<line x1="654.3" y1="327.2" x2="664.5" y2="327.2" stroke="#222" stroke-width="1.3"/>
<circle cx="659.5" cy="294" r="1.7" fill="#000"/>
<circle cx="659.5" cy="327.2" r="1.7" fill="#000"/>
<circle cx="660.2" cy="335.1" r="1.7" fill="#000"/>
<line x1="670.8" y1="329" x2="670.8" y2="341" stroke="#444" stroke-width="0.9"/>
<line x1="670.8" y1="367.4" x2="670.8" y2="381.6" stroke="#444" stroke-width="0.9"/>
<rect x="665.6" y="341" width="10.399999999999977" height="26.399999999999977" fill="#99d594" stroke="#444" stroke-width="0.8" />
<line x1="665.6" y1="352.7" x2="676" y2="352.7" stroke="#222" stroke-width="1.3"/>
<circle cx="669" cy="329" r="1.7" fill="#000"/>
<circle cx="669.6" cy="352.7" r="1.7" fill="#000"/>
<circle cx="669.6" cy="381.6" r="1.7" fill="#000"/>
<line x1="422.4" y1="404.2" x2="422.4" y2="407" stroke="#333" stroke-width="0.9"/>
<text x="427.4" y="414.2" font-size="10.1" text-anchor="end" transform="rotate(-45 427.4 414.2)">Entrance</text>
<line x1="464.7" y1="404.2" x2="464.7" y2="407" stroke="#333" stroke-width="0.9"/>
<text x="469.7" y="414.2" font-size="10.1" text-anchor="end" transform="rotate(-45 469.7 414.2)">Cave</text>
<line x1="519.7" y1="404.2" x2="519.7" y2="407" stroke="#333" stroke-width="0.9"/>
<text x="524.7" y="414.2" font-size="10.1" text-anchor="end" transform="rotate(-45 524.7 414.2)">Entrance</text>
<line x1="562.0" y1="404.2" x2="562.0" y2="407" stroke="#333" stroke-width="0.9"/>
<text x="567.0" y="414.2" font-size="10.1" text-anchor="end" transform="rotate(-45 567.0 414.2)">Cave</text>
<line x1="616.9" y1="404.2" x2="616.9" y2="407" stroke="#333" stroke-width="0.9"/>
<text x="621.9" y="414.2" font-size="10.1" text-anchor="end" transform="rotate(-45 621.9 414.2)">Entrance</text>
<line x1="659.1999999999999" y1="404.2" x2="659.1999999999999" y2="407" stroke="#333" stroke-width="0.9"/>
<text x="664.1999999999999" y="414.2" font-size="10.1" text-anchor="end" transform="rotate(-45 664.1999999999999 414.2)">Cave</text>
<line x1="643" y1="235.1" x2="643" y2="246.70000000000002" stroke="#444" stroke-width="0.9"/>
<rect x="637.4" y="237.20000000000002" width="11.3" height="7.4" fill="#fc8d59" stroke="#444" stroke-width="0.8" />
<line x1="637.4" y1="240.9" x2="648.7" y2="240.9" stroke="#222" stroke-width="1.0"/>
<circle cx="643" cy="240.9" r="1.7" fill="#000"/>
<text x="657.8" y="244.9" font-size="12" text-anchor="start" fill="#000" font-weight="normal" font-style="normal" >Dark</text>
<line x1="643" y1="249.2" x2="643" y2="260.8" stroke="#444" stroke-width="0.9"/>
<rect x="637.4" y="251.3" width="11.3" height="7.4" fill="#ffffbf" stroke="#444" stroke-width="0.8" />
<line x1="637.4" y1="255.0" x2="648.7" y2="255.0" stroke="#222" stroke-width="1.0"/>
<circle cx="643" cy="255.0" r="1.7" fill="#000"/>
<text x="657.8" y="259.0" font-size="12" text-anchor="start" fill="#000" font-weight="normal" font-style="normal" >H<tspan font-size="8.6" dy="2.8">2</tspan></text>
<line x1="643" y1="263.3" x2="643" y2="274.90000000000003" stroke="#444" stroke-width="0.9"/>
<rect x="637.4" y="265.40000000000003" width="11.3" height="7.4" fill="#99d594" stroke="#444" stroke-width="0.8" />
<line x1="637.4" y1="269.1" x2="648.7" y2="269.1" stroke="#222" stroke-width="1.0"/>
<circle cx="643" cy="269.1" r="1.7" fill="#000"/>
<text x="657.8" y="273.1" font-size="12" text-anchor="start" fill="#000" font-weight="normal" font-style="normal" >Light</text>
</svg></body></html>
